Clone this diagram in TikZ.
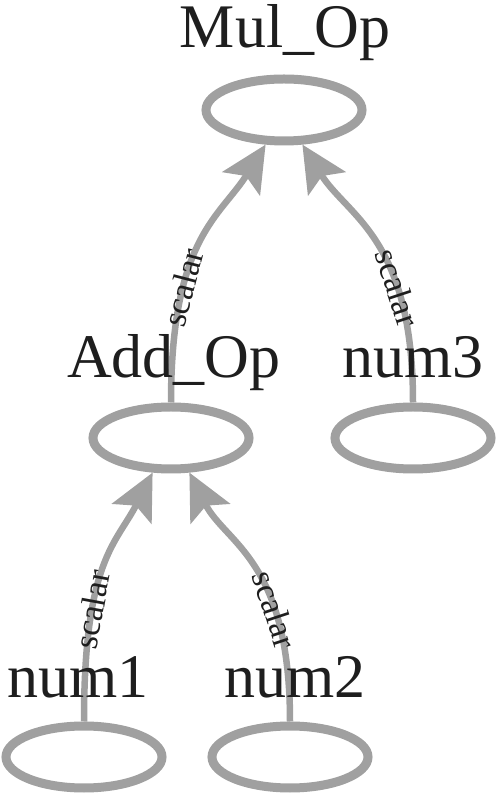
\documentclass[tikz,border=0pt]{standalone}
\usepackage{fontspec}
\setmainfont{Liberation Serif}
\usetikzlibrary{arrows.meta,shapes.geometric}
\definecolor{linegray}{RGB}{160,160,160}
\definecolor{txtcol}{RGB}{30,30,30}
\begin{document}
\begin{tikzpicture}[x=1pt,y=1pt,
  opnode/.style={ellipse, draw=linegray, line width=9pt, minimum width=156pt, minimum height=62pt, inner sep=0pt},
  namelabel/.style={anchor=base, text=txtcol, font=\fontsize{62}{62}\selectfont, inner sep=0pt},
  conn/.style={draw=linegray, line width=6.5pt, -{Stealth[length=46pt,width=44pt,inset=9pt]}},
  elabel/.style={sloped, pos=0.3, text=txtcol, font=\fontsize{34}{34}\selectfont, inner sep=0pt}]
\useasboundingbox (0,0) rectangle (500,801);
% ellipses
\node[opnode] (mul) at (284,691) {};
\node[opnode] (add) at (171,363) {};
\node[opnode] (n3) at (413,363) {};
\node[opnode] (n1) at (84,44) {};
\node[opnode] (n2) at (290,44) {};
% connectors
\draw[conn] (n1.north) .. controls +(0,162) and +(-36,-71) .. (add.242) node[elabel] {scalar};
\draw[conn] (n2.north) .. controls +(0,162) and +(36,-71) .. (add.298) node[elabel] {scalar};
\draw[conn] (add.north) .. controls +(0,165) and +(-45,-72) .. (mul.242) node[elabel] {scalar};
\draw[conn] (n3.north) .. controls +(0,165) and +(45,-72) .. (mul.298) node[elabel] {scalar};
% names
\node[namelabel] (tmul) at (285,753) {Mul\_Op};
\node[namelabel] (tadd) at (174,423) {Add\_Op};
\node[namelabel] (tn3) at (413,423) {num3};
\node[namelabel] (tn1) at (78,103) {num1};
\node[namelabel] (tn2) at (295,103) {num2};
\end{tikzpicture}
\end{document}
